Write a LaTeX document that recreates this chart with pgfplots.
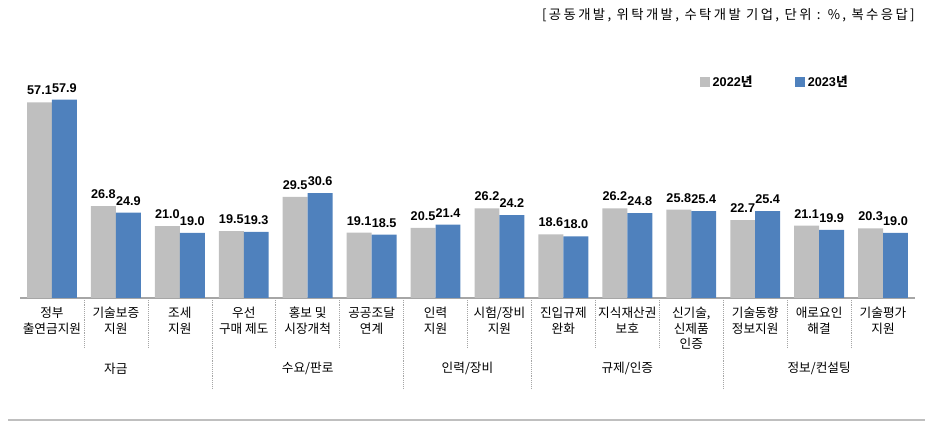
\documentclass[border=0pt]{standalone}
\usepackage{pgfplots}
\pgfplotsset{compat=1.18}
\usepackage{fontspec}
\setmainfont{Liberation Sans}
\newfontfamily\kr{Noto Sans CJK KR}
\newfontfamily\krw{Noto Sans CJK KR}[LetterSpace=18]
\definecolor{cgray}{HTML}{BFBFBF}
\definecolor{cblue}{HTML}{4F81BD}
\begin{document}
\begin{tikzpicture}
\path[use as bounding box] (0,0) rectangle (706.5pt,325.5pt);
\begin{axis}[
 at={(15pt,102pt)}, anchor=south west,
 scale only axis, width=671.25pt, height=171pt,
 ybar=0pt, bar width=0.39,
 xmin=-0.5, xmax=13.5, ymin=0, ymax=66.57,
 axis x line*=bottom, axis y line=none,
 x axis line style={draw=black!35, line width=0.8pt, -},
 xtick={0,...,13}, major tick length=0pt,
 xticklabels={{정부\\출연금지원},{기술보증\\지원},{조세\\지원},{우선\\구매 제도},{홍보 및\\시장개척},{공공조달\\연계},{인력\\지원},{시험/장비\\지원},{진입규제\\완화},{지식재산권\\보호},{신기술,\\신제품\\인증},{기술동향\\정보지원},{애로요인\\해결},{기술평가\\지원}},
 xticklabel style={align=center, font=\kr\fontsize{9.5}{11.5}\selectfont, yshift=-3.5pt, text=black},
 ytick=\empty,
 clip=false,
 /pgf/number format/assume math mode=true,
 nodes near coords={\pgfmathprintnumber[fixed,fixed zerofill,precision=1]{\pgfplotspointmeta}},
 every node near coord/.append style={font=\bfseries\fontsize{9.5}{10}\selectfont, yshift=2pt, text=black, inner xsep=0pt},
 legend style={at={(0.755,0.947)}, anchor=west, draw=none, fill=none, legend columns=2,
   font=\bfseries\fontsize{9.5}{11}\selectfont,
   /tikz/every even column/.append style={column sep=30pt}},
]
\addplot[fill=cgray, draw=none, legend image code/.code={\fill[cgray] (0pt,-3.75pt) rectangle (7.5pt,3.75pt);}] coordinates {
(0,57.1) (1,26.8) (2,21.0) (3,19.5) (4,29.5) (5,19.1) (6,20.5) (7,26.2) (8,18.6) (9,26.2) (10,25.8) (11,22.7) (12,21.1) (13,20.3)};
\addlegendentry{2022{\kr 년}}
\addplot[fill=cblue, draw=none, legend image code/.code={\fill[cblue] (0pt,-3.75pt) rectangle (7.5pt,3.75pt);}] coordinates {
(0,57.9) (1,24.9) (2,19.0) (3,19.3) (4,30.6) (5,18.5) (6,21.4) (7,24.2) (8,18.0) (9,24.8) (10,25.4) (11,25.4) (12,19.9) (13,19.0)};
\addlegendentry{2023{\kr 년}}
\pgfplotsinvokeforeach{0.5,1.5,3.5,4.5,6.5,8.5,9.5,11.5,12.5}{\draw[densely dotted, black!35] (axis cs:#1,0) -- (axis cs:#1,-14.6);}
\pgfplotsinvokeforeach{2.5,5.5,7.5,10.5}{\draw[densely dotted, black!35] (axis cs:#1,0) -- (axis cs:#1,-26.3);}
\begin{scope}[font=\kr\fontsize{9.5}{11.5}\selectfont]
\node at (axis cs:1,-20.6) {자금};
\node at (axis cs:4,-20.6) {수요/판로};
\node at (axis cs:6.5,-20.6) {인력/장비};
\node at (axis cs:9,-20.6) {규제/인증};
\node at (axis cs:12,-20.6) {정보/컨설팅};
\end{scope}
\end{axis}
\node[anchor=east, font=\krw\fontsize{10}{11}\selectfont, inner xsep=0pt] at (686.25pt,314.25pt) {[공동개발, 위탁개발, 수탁개발 기업, 단위 : \%, 복수응답]};
\draw[black!25, line width=1.5pt] (6pt,10.5pt) -- (694pt,10.5pt);
\end{tikzpicture}
\end{document}
